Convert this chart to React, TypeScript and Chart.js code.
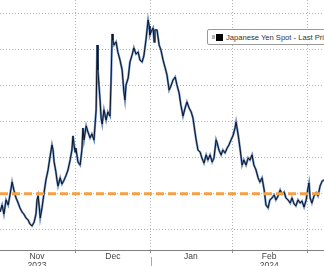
import React, { useEffect, useRef } from "react";
import { Chart, registerables } from "chart.js";

Chart.register(...registerables);

// Trading-day position (Nov 1 2023 = 0) of each sample
const dayPos = [
  0.7, 1.3, 1.8, 2.4, 3.0, 3.5, 4.1, 4.6, 5.2, 5.8, 6.3, 6.9, 7.4, 8.0, 8.6, 9.1, 9.7, 10.3, 10.8, 11.1,
  11.4, 11.7, 12.0, 12.5, 13.1, 13.6, 14.2, 14.7, 15.3, 15.6, 15.9, 16.4, 16.7, 17.0, 17.6, 18.1, 18.7, 19.2, 19.8, 20.4,
  20.9, 21.2, 21.5, 21.8, 22.0, 22.6, 23.2, 23.7, 24.0, 24.3, 24.9, 25.4, 26.0, 26.5, 27.1, 27.7, 28.0, 28.2, 28.5, 28.8,
  29.1, 29.4, 29.9, 30.5, 31.0, 31.6, 31.9, 32.2, 32.4, 32.7, 33.3, 33.8, 34.4, 35.0, 35.5, 35.8, 36.1, 36.7, 37.2, 37.8,
  38.3, 38.9, 39.5, 40.0, 40.6, 41.1, 41.7, 42.3, 42.6, 42.8, 43.1, 43.7, 44.0, 44.2, 44.8, 45.4, 45.9, 46.5, 47.1, 47.6,
  48.2, 48.7, 49.3, 49.9, 50.4, 51.0, 51.5, 52.1, 52.7, 53.2, 53.8, 54.4, 54.9, 55.5, 55.8, 56.3, 56.9, 57.4, 58.0, 58.6,
  59.1, 59.7, 60.3, 60.8, 61.4, 61.7, 62.2, 62.8, 63.3, 63.9, 64.5, 65.0, 65.6, 66.2, 66.7, 67.0, 67.6, 68.1, 68.7, 69.2,
  69.8, 70.4, 70.9, 71.5, 72.0, 72.6, 73.2, 73.7, 74.3, 74.9, 75.4, 76.0, 76.5, 77.1, 77.7, 78.2, 78.8, 79.4, 79.9, 80.5,
  81.0, 81.6, 82.2, 82.7, 83.3, 83.8, 84.4, 85.0, 85.5, 86.1, 86.7, 87.2, 87.5, 87.8, 88.3, 88.9, 89.5, 90.0, 90.6, 91.2,
  91.7,
];

// Japanese Yen Spot (USDJPY) - last price
const yenSpot = [
  151.01, 150.62, 151.12, 150.34, 150.62, 150.07, 149.35, 149.79, 150.23, 150.51, 150.78, 151.01, 151.12, 151.34, 151.45, 151.67, 151.78, 151.56, 151.12, 150.34,
  150.12, 150.67, 151.34, 150.78, 149.9, 149.24, 148.68, 148.02, 147.3, 147.58, 148.24, 148.79, 149.24, 149.57, 149.12, 149.46, 149.24, 149.01, 148.68, 148.13,
  147.58, 146.8, 147.3, 147.69, 147.47, 148.24, 148.41, 147.58, 146.36, 147.02, 146.25, 146.58, 146.91, 146.69, 147.02, 145.36, 141.77, 143.15, 143.98, 144.81,
  145.81, 146.14, 145.36, 145.92, 145.47, 145.7, 143.7, 141.16, 141.49, 141.77, 141.6, 142.16, 142.6, 143.15, 144.37, 144.81, 143.98, 143.59, 142.71, 142.32,
  141.93, 142.27, 142.16, 142.6, 142.71, 142.38, 141.49, 140.39, 140.72, 141.22, 141.05, 140.83, 141.6, 140.94, 140.94, 141.77, 142.05, 142.6, 143.04, 143.43,
  144.26, 144.04, 143.7, 143.54, 143.98, 144.42, 145.09, 145.7, 145.25, 144.92, 145.25, 145.47, 145.81, 146.64, 147.02, 147.58, 147.69, 148.02, 148.3, 147.85,
  148.13, 147.85, 148.24, 148.02, 147.02, 147.19, 147.58, 147.85, 147.58, 147.74, 147.47, 147.3, 147.02, 146.75, 146.36, 146.03, 146.75, 147.47, 148.41, 148.13,
  148.41, 148.02, 148.13, 147.85, 148.41, 148.68, 149.12, 149.35, 149.12, 149.79, 150.62, 150.78, 150.34, 150.23, 150.07, 150.34, 150.12, 149.79, 150.01, 149.9,
  150.23, 150.34, 150.51, 150.23, 150.56, 150.67, 150.34, 150.51, 150.4, 150.73, 150.34, 149.68, 149.4, 150.23, 150.51, 150.12, 149.95, 150.12, 149.57, 149.29,
  149.24,
];

const monthStarts = [22, 43, 66, 87];
const monthLabelPos = [11.1, 32.4, 54.3, 76.3];
const monthLabels = [["Nov", "2023"], ["Dec"], ["Jan"], ["Feb", "2024"]];
const yearBreak = 43;
const yTicks = [140, 142, 144, 146, 148, 150, 152];
const interventionLevel = 150;
const xRange = [0.7, 91.7];
const yRange = [139.28, 153.11];
const legendText = "Japanese Yen Spot - Last Price";

const FONT = "'Liberation Sans', Arial, sans-serif";

export default function App() {
  const ref = useRef<HTMLCanvasElement>(null);

  useEffect(() => {
    const canvas = ref.current!;
    const series = dayPos.map((d, i) => ({ x: d, y: yenSpot[i] }));
    const level = xRange.map((d) => ({ x: d, y: interventionLevel }));

    const yearSep = {
      id: "yearSep",
      afterDraw(chart: any) {
        const xs = chart.scales.x;
        const px = Math.round(xs.getPixelForValue(yearBreak)) + 0.5;
        const c = chart.ctx;
        c.save();
        c.strokeStyle = "#aaa";
        c.lineWidth = 1;
        c.beginPath();
        c.moveTo(px, xs.top + 7);
        c.lineTo(px, xs.top + 20);
        c.stroke();
        c.restore();
      },
    };

    const chart = new Chart(canvas, {
      type: "line",
      data: {
        datasets: [
          {
            data: level,
            borderColor: "#f5a042",
            borderWidth: 3,
            borderDash: [8, 4],
            pointRadius: 0,
            order: 0,
          },
          {
            data: series,
            borderColor: "#0d1422",
            borderWidth: 1,
            pointRadius: 0,
            tension: 0,
            order: 1,
          },
          {
            data: series,
            borderColor: "#6a8fc4",
            borderWidth: 2.2,
            pointRadius: 0,
            tension: 0,
            order: 2,
          },
        ],
      },
      options: {
        animation: false,
        responsive: false,
        events: [],
        layout: { padding: 0 },
        plugins: { legend: { display: false }, tooltip: { enabled: false } },
        scales: {
          x: {
            type: "linear",
            min: xRange[0],
            max: xRange[1],
            afterBuildTicks: (s: any) => {
              const all = [...monthStarts, ...monthLabelPos].sort((a, b) => a - b);
              s.ticks = all.map((v) => ({ value: v }));
            },
            afterFit: (s: any) => {
              s.height = 22;
            },
            ticks: {
              autoSkip: false,
              maxRotation: 0,
              padding: -1,
              color: "#444",
              font: { family: FONT, size: 8.5, lineHeight: 1.05 },
              callback: (v: any) => {
                const i = monthLabelPos.indexOf(Number(v));
                return i >= 0 ? monthLabels[i] : "";
              },
            },
            grid: {
              color: (ctx: any) =>
                ctx.tick && monthStarts.includes(ctx.tick.value) ? "#b4b4b4" : "rgba(0,0,0,0)",
              tickColor: (ctx: any) =>
                ctx.tick && monthStarts.includes(ctx.tick.value) ? "#999" : "rgba(0,0,0,0)",
              tickLength: 3,
              lineWidth: 1,
            },
            border: { display: true, color: "#808080", width: 1, dash: [1, 2] },
          },
          y: {
            type: "linear",
            reverse: true,
            min: yRange[0],
            max: yRange[1],
            afterBuildTicks: (s: any) => {
              s.ticks = yTicks.map((v) => ({ value: v }));
            },
            afterFit: (s: any) => {
              s.width = 0;
            },
            ticks: { display: false },
            grid: { color: "#b4b4b4", lineWidth: 1, drawTicks: false },
            border: { display: false, dash: [1, 2] },
          },
        },
      },
      plugins: [yearSep],
    });
    return () => chart.destroy();
  }, []);

  return (
    <div
      style={{
        position: "fixed",
        left: 0,
        top: 0,
        width: 324,
        height: 266,
        overflow: "hidden",
        background: "#fff",
      }}
    >
      <canvas ref={ref} width={324} height={272} style={{ display: "block" }} />
      <div
        style={{
          position: "absolute",
          left: 207,
          top: 29,
          height: 14,
          paddingRight: 6,
          border: "1px solid #9a9a9a",
          borderRadius: 2,
          background: "#fff",
          whiteSpace: "nowrap",
          display: "flex",
          alignItems: "center",
          fontFamily: FONT,
          fontSize: 7.6,
          color: "#333",
        }}
      >
        <span style={{ display: "inline-block", width: 3, height: 4, background: "#b5b5b5", marginLeft: 4 }} />
        <span style={{ display: "inline-block", width: 7, height: 7, background: "#000", marginLeft: 1, marginRight: 3 }} />
        <span>{legendText}</span>
      </div>
    </div>
  );
}
